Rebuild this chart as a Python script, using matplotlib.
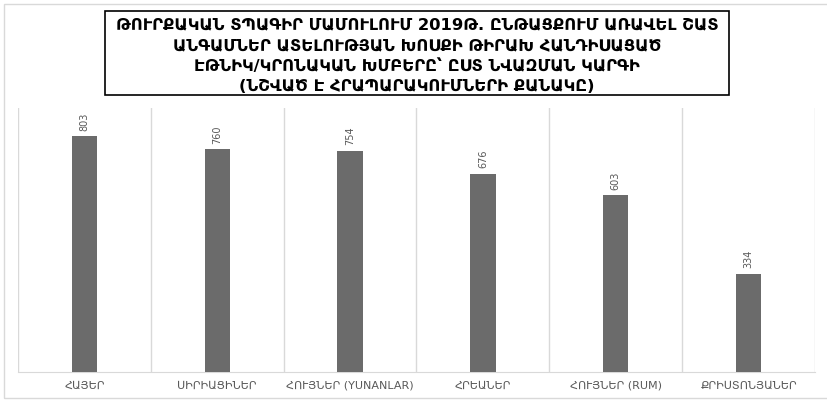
import numpy as np
import matplotlib.pyplot as plt
from matplotlib.patches import Rectangle

plt.rcParams['font.family'] = ['DejaVu Sans']

# chart data
groups = ['ՀԱՅԵՐ', 'ՍԻՐԻԱՑԻՆԵՐ', 'ՀՈՒՅՆԵՐ (YUNANLAR)', 'ՀՐԵԱՆԵՐ',
          'ՀՈՒՅՆԵՐ (RUM)', 'ՔՐԻՍՏՈՆՅԱՆԵՐ']
counts = [803, 760, 754, 676, 603, 334]
title_lines = ['ԹՈՒՐՔԱԿԱՆ ՏՊԱԳԻՐ ՄԱՄՈՒԼՈՒՄ 2019Թ. ԸՆԹԱՑՔՈՒՄ ԱՌԱՎԵԼ ՇԱՏ',
               'ԱՆԳԱՄՆԵՐ ԱՏԵԼՈՒԹՅԱՆ ԽՈՍՔԻ ԹԻՐԱԽ ՀԱՆԴԻՍԱՑԱԾ',
               'ԷԹՆԻԿ/ԿՐՈՆԱԿԱՆ ԽՄԲԵՐԸ՝ ԸՍՏ ՆՎԱԶՄԱՆ ԿԱՐԳԻ',
               '(ՆՇՎԱԾ Է ՀՐԱՊԱՐԱԿՈՒՄՆԵՐԻ ՔԱՆԱԿԸ)']

W, H = 828, 401
fig = plt.figure(figsize=(W/100, H/100), dpi=100)

# outer light frame
fig.patches.append(Rectangle((4/W, 3/H), 1.0, (398-4)/H, transform=fig.transFigure,
                             fill=False, edgecolor='#d9d9d9', linewidth=1))

# plot area (pixels: x 18..815, y 108..372)
ax = fig.add_axes([18/W, 1-372/H, (815-18)/W, (372-108)/H])
x = np.arange(len(groups))
ax.bar(x, counts, width=0.19, color='#6b6b6b', zorder=3)
ax.set_xlim(-0.5, len(groups)-0.5)
ax.set_ylim(0, 900)

# separators between categories
for b in np.arange(-0.5, len(groups)+0.5, 1):
    ax.axvline(b, color='#d9d9d9', linewidth=1, zorder=1)

for xi, v in zip(x, counts):
    ax.annotate(str(v), (xi, v), xytext=(0, 4), textcoords='offset points',
                rotation=90, ha='center', va='bottom', fontsize=7, color='#595959')

ax.set_yticks([])
ax.set_xticks(x)
ax.set_xticklabels(groups, fontsize=8, color='#595959')
ax.tick_params(axis='x', length=0, pad=6)
for s in ['top', 'left', 'right']:
    ax.spines[s].set_visible(False)
ax.spines['bottom'].set_color('#d9d9d9')

# title inside a black box, one text per line
fig.patches.append(Rectangle((105/W, 1-95/H), (729-105)/W, (95-11)/H,
                             transform=fig.transFigure, fill=True, facecolor='white',
                             edgecolor='black', linewidth=1.2))
for i, line in enumerate(title_lines):
    fig.text(417/W, 1-(25+20.5*i)/H, line, ha='center', va='center',
             fontsize=11.8, fontweight='bold')

fig.savefig('out.png', dpi=100)
